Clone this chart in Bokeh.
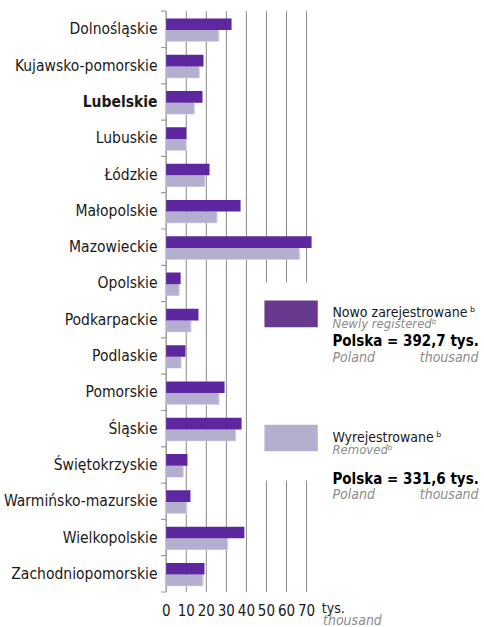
from bokeh.plotting import figure
from bokeh.models import Range1d, ColumnDataSource
from bokeh.core.properties import value
from bokeh.embed import file_html
from bokeh.resources import INLINE

# ---------------- data ----------------
regions = ["Dolnośląskie", "Kujawsko-pomorskie", "Lubelskie", "Lubuskie", "Łódzkie",
           "Małopolskie", "Mazowieckie", "Opolskie", "Podkarpackie", "Podlaskie",
           "Pomorskie", "Śląskie", "Świętokrzyskie", "Warmińsko-mazurskie",
           "Wielkopolskie", "Zachodniopomorskie"]
bold_regions = ["Lubelskie"]
newly_registered = [32.6, 18.6, 18.1, 10.0, 21.6, 37.1, 72.5, 7.2,
                    16.1, 9.6, 29.1, 37.6, 10.6, 12.1, 39.0, 19.1]
removed = [26.0, 16.3, 13.8, 9.8, 19.1, 25.1, 66.3, 6.2,
           12.1, 7.2, 26.1, 34.4, 8.3, 10.0, 30.4, 18.1]
x_ticks = [0, 10, 20, 30, 40, 50, 60, 70]
x_tick_labels = ["0", "10", "20", "30", "40", "50", "60", "70"]
unit_pl = "tys."
unit_en = "thousand"
series_pl = ["Nowo zarejestrowane", "Wyrejestrowane"]
series_en = ["Newly registered", "Removed"]
total_pl = "Polska"
total_en = "Poland"
totals = ["392,7", "331,6"]
footnote = "\u1d47"

# ---------------- style ----------------
NEW_COLOR = "#5d27a0"
NEW_SWATCH = "#673a90"
REM_COLOR = "#b4aecf"
REM_SHADOW = "#dcd9ec"
GRID_COLOR = "#8a8a8a"
AXIS_COLOR = "#9c9c9c"
TEXT_COLOR = "#1a1a1a"
GREY_TEXT = "#8c8c8c"
FONT = "DejaVu Sans Condensed, Roboto"

W, H = 484, 627
PX_PER_UNIT = 2.005
ROW_PX = 36.3
ORIGIN_X = 165.7
ORIGIN_Y = 10.7

p = figure(width=W, height=H, output_backend="svg", toolbar_location=None,
           x_range=Range1d(-ORIGIN_X / PX_PER_UNIT, (W - ORIGIN_X) / PX_PER_UNIT),
           y_range=Range1d((H - ORIGIN_Y) / ROW_PX, -ORIGIN_Y / ROW_PX),
           x_axis_type=None, y_axis_type=None, min_border=0)
p.outline_line_color = None
p.grid.visible = False
p.background_fill_color = "white"
p.border_fill_color = "white"

n = len(regions)
rows = list(range(n))
LEG_TOP, LEG_BOT = 7.47, 12.93

# grid lines (broken behind the legend for the right-most ones)
gx0, gy0, gx1, gy1 = [], [], [], []
for t in x_ticks[1:]:
    if t >= 50:
        gx0 += [t, t]; gx1 += [t, t]; gy0 += [0, LEG_BOT]; gy1 += [LEG_TOP, n]
    else:
        gx0.append(t); gx1.append(t); gy0.append(0); gy1.append(n)
p.segment(x0=gx0, y0=gy0, x1=gx1, y1=gy1, line_color=GRID_COLOR, line_width=1)

# y axis line and boundary ticks
p.segment(x0=[0], y0=[0], x1=[0], y1=[n], line_color=AXIS_COLOR, line_width=1.5)
p.segment(x0=-2.6, y0=list(range(n + 1)), x1=0, y1=list(range(n + 1)),
          line_color=AXIS_COLOR, line_width=1.2)

src = ColumnDataSource(dict(
    region=regions, new=newly_registered, rem=removed,
    y_new=[r + 0.36 for r in rows], y_rem=[r + 0.675 for r in rows],
    y_sh=[r + 0.69 for r in rows], rem_sh=[v + 0.6 for v in removed],
    y_lab=[r + 0.5 for r in rows],
    style=["bold" if r in bold_regions else "normal" for r in regions],
))
p.hbar(y="y_sh", left=0, right="rem_sh", height=0.31, source=src,
       fill_color=REM_SHADOW, line_color=None)
p.hbar(y="y_rem", left=0, right="rem", height=0.31, source=src,
       fill_color=REM_COLOR, line_color=None)
p.hbar(y="y_new", left=0, right="new", height=0.32, source=src,
       fill_color=NEW_COLOR, line_color=None)

p.text(x=-4.3, y="y_lab", text="region", source=src, text_align="right",
       text_baseline="middle", text_font=value(FONT), text_font_size=value("15.5px"),
       text_font_style="style", text_color=TEXT_COLOR)

# x tick labels
p.text(x=x_ticks, y=16.5, text=x_tick_labels, text_align="center",
       text_baseline="middle", text_font=value(FONT), text_font_size=value("15px"),
       text_color=TEXT_COLOR)
p.text(x=[77.6], y=[16.45], text=[unit_pl], text_align="left",
       text_baseline="alphabetic", text_font=value(FONT), text_font_size=value("14px"),
       text_color=TEXT_COLOR)
p.text(x=[78.2], y=[16.76], text=[unit_en], text_align="left",
       text_baseline="alphabetic", text_font=value(FONT), text_font_size=value("14px"),
       text_font_style="italic", text_color=GREY_TEXT)

# legend
p.quad(left=49.0, right=75.6, top=[7.97, 11.39], bottom=[8.71, 12.12],
       fill_color=[NEW_SWATCH, REM_COLOR], line_color=None)
TX = 82.9
p.text(x=TX, y=[8.29, 11.74], text=[s + "\u2009" + footnote for s in series_pl],
       text_baseline="alphabetic", text_font=value(FONT), text_font_size=value("14px"),
       text_color=TEXT_COLOR)
p.text(x=TX, y=[8.61, 12.07], text=[s + footnote for s in series_en],
       text_baseline="alphabetic", text_font=value(FONT), text_font_size=value("13px"),
       text_font_style="italic", text_color=GREY_TEXT)
p.text(x=TX, y=[9.09, 12.88], text=[f"{total_pl} = {t} {unit_pl}" for t in totals],
       text_baseline="alphabetic", text_font=value(FONT), text_font_size=value("15px"),
       text_font_style="bold", text_color="black")
p.text(x=TX, y=[9.53, 13.29], text=[total_en, total_en],
       text_baseline="alphabetic", text_font=value(FONT), text_font_size=value("14px"),
       text_font_style="italic", text_color=GREY_TEXT)
p.text(x=155.8, y=[9.53, 13.29], text=[unit_en, unit_en], text_align="right",
       text_baseline="alphabetic", text_font=value(FONT), text_font_size=value("14px"),
       text_font_style="italic", text_color=GREY_TEXT)

open("out.html", "w").write(file_html(p, INLINE))
